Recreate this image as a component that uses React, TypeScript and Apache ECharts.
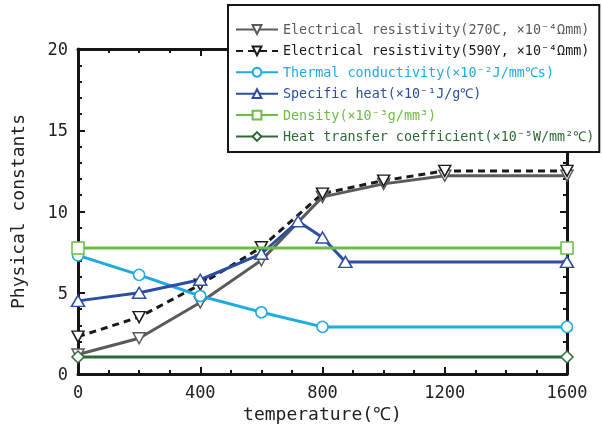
import React, { useEffect, useRef } from 'react';
import * as echarts from 'echarts';

const resistTemp = [0, 200, 400, 600, 800, 1000, 1200, 1600];
const resist270 = [1.2, 2.2, 4.4, 7.0, 10.9, 11.7, 12.2, 12.2];
const resist590 = [2.3, 3.5, 5.5, 7.8, 11.1, 11.9, 12.5, 12.5];
const condTemp = [0, 200, 400, 600, 800, 1600];
const conductivity = [7.3, 6.1, 4.8, 3.8, 2.9, 2.9];
const specTemp = [0, 200, 400, 600, 720, 800, 875, 1600];
const specificHeat = [4.5, 5.0, 5.8, 7.4, 9.4, 8.4, 6.9, 6.9];
const densTemp = [0, 1600];
const density = [7.75, 7.75];
const htcTemp = [0, 1600];
const heatTransfer = [1.05, 1.05];

const seriesNames = [
  'Electrical resistivity(270C, ×10⁻⁴Ωmm)',
  'Electrical resistivity(590Y, ×10⁻⁴Ωmm)',
  'Thermal conductivity(×10⁻²J/mm℃s)',
  'Specific heat(×10⁻¹J/g℃)',
  'Density(×10⁻³g/mm³)',
  'Heat transfer coefficient(×10⁻⁵W/mm²℃)',
];
const colors = ['#5a5a5a', '#1a1a1a', '#1faae3', '#2b4ea3', '#6bbd45', '#2d6a37'];

const pairs = (xs: number[], ys: number[]) => xs.map((x, i) => [x, ys[i]]);
const downTri = 'path://M0,0 L12,0 L6,10.5 Z';
const FONT = "'DejaVu Sans Mono', monospace";

export default function App() {
  const ref = useRef<HTMLDivElement>(null);
  useEffect(() => {
    const chart = echarts.init(ref.current!, null, { renderer: 'svg' });
    const axisCommon = {
      axisLine: { onZero: false, lineStyle: { color: '#151515', width: 3 } },
      axisTick: { inside: true, length: 7, lineStyle: { color: '#151515', width: 2 } },
      minorTick: { show: true, length: 4, lineStyle: { color: '#151515', width: 2 } },
      splitLine: { show: false },
    };
    const labelStyle = { fontSize: 17, color: '#222', fontFamily: FONT, formatter: (v: number) => String(v) };
    const xBase = { type: 'value', min: 0, max: 1600, interval: 400, ...axisCommon,
      minorTick: { ...axisCommon.minorTick, splitNumber: 4 } };
    const yBase = { type: 'value', min: 0, max: 20, interval: 5, ...axisCommon,
      minorTick: { ...axisCommon.minorTick, splitNumber: 5 } };
    const mk = (i: number, xs: number[], ys: number[], symbol: any, size: any, extra: any = {}) => ({
      name: seriesNames[i],
      type: 'line',
      data: pairs(xs, ys),
      symbol,
      symbolSize: size,
      showAllSymbol: true,
      lineStyle: { color: colors[i], width: 3, ...(extra.lineStyle || {}) },
      itemStyle: { color: '#fff', borderColor: colors[i], borderWidth: 1.5 },
      z: extra.z || 2,
    });
    chart.setOption({
      animation: false,
      grid: { left: 77, right: 35, top: 49, bottom: 56 },
      xAxis: [
        { ...xBase, position: 'bottom',
          axisLabel: { ...labelStyle, margin: 9 },
          name: 'temperature(℃)', nameLocation: 'middle', nameGap: 24,
          nameTextStyle: { fontSize: 18, color: '#222', fontFamily: FONT } },
        { ...xBase, position: 'top', axisLabel: { show: false } },
      ],
      yAxis: [
        { ...yBase, position: 'left', axisLabel: { ...labelStyle, margin: 10 },
          name: 'Physical constants', nameLocation: 'middle', nameGap: 52,
          nameTextStyle: { fontSize: 18, color: '#222', fontFamily: FONT } },
        { ...yBase, position: 'right', axisLabel: { show: false } },
      ],
      legend: {
        orient: 'vertical',
        left: 228,
        top: 5,
        padding: [18, 5, 9, 7],
        itemWidth: 42,
        itemHeight: 11,
        itemGap: 8.4,
        backgroundColor: '#fff',
        borderColor: '#151515',
        borderWidth: 2,
        borderRadius: 0,
        textStyle: { fontSize: 13.4, fontFamily: FONT },
        data: seriesNames.map((n, i) => ({ name: n, textStyle: { color: colors[i] } })),
      },
      series: [
        mk(0, resistTemp, resist270, downTri, [12, 11]),
        mk(1, resistTemp, resist590, downTri, [12, 11], { lineStyle: { type: [7, 5] } }),
        mk(2, condTemp, conductivity, 'circle', 11),
        mk(3, specTemp, specificHeat, 'triangle', [13, 11]),
        mk(4, densTemp, density, 'rect', 12, { z: 3 }),
        mk(5, htcTemp, heatTransfer, 'diamond', [12, 12]),
      ],
    });
    return () => chart.dispose();
  }, []);
  return <div ref={ref} style={{ position: 'fixed', left: 0, top: 0, width: 602, height: 430 }} />;
}
